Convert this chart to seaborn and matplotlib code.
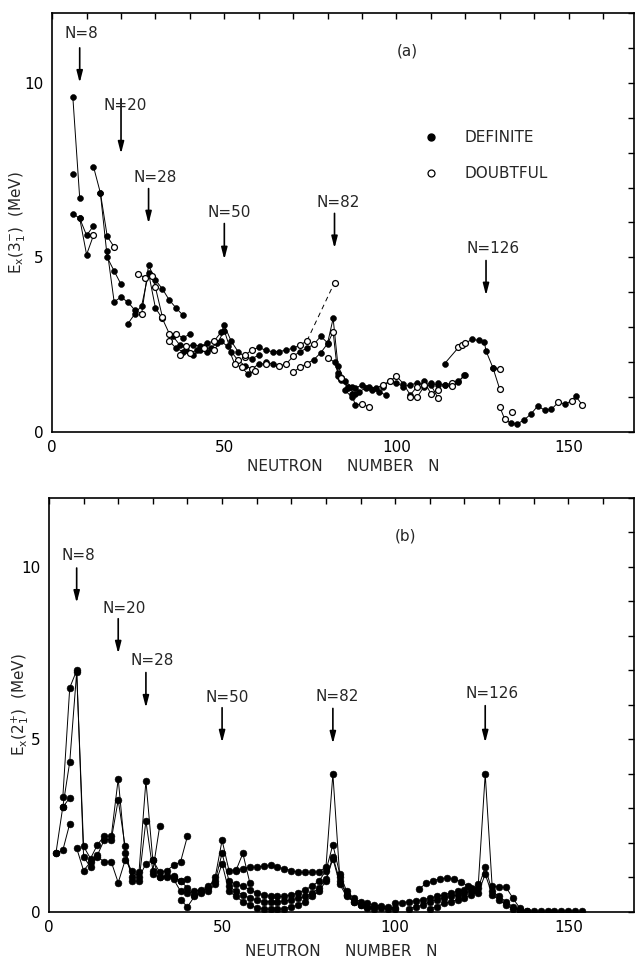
import matplotlib
matplotlib.use("Agg")
import matplotlib.pyplot as plt
import pandas as pd
import seaborn as sns
from matplotlib.lines import Line2D
from matplotlib.ticker import MultipleLocator

sns.set_style("white")
plt.rcParams['font.family'] = ['DejaVu Sans']
plt.rcParams['mathtext.fontset'] = 'dejavusans'

# ---------------- panel (a): E_x(3-_1) ----------------
ta01_n = [6, 8];                ta01_e = [9.6, 6.7];                ta01_k = "ff"
ta02_n = [6];                   ta02_e = [7.38];                    ta02_k = "f"
ta03_n = [6, 8, 10, 12];        ta03_e = [6.25, 6.12, 5.63, 5.9];   ta03_k = "ffff"
ta04_n = [8, 10, 12];           ta04_e = [6.12, 5.08, 5.63];        ta04_k = "ffo"
ta05_n = [12, 14, 16, 18];      ta05_e = [7.6, 6.85, 5.6, 5.3];     ta05_k = "fffo"
ta06_n = [14, 16, 18, 20];      ta06_e = [6.85, 5.0, 4.61, 4.23];   ta06_k = "ffff"
ta07_n = [16, 18, 20, 22, 24, 26, 28, 30, 32, 34, 36, 38]
ta07_e = [5.18, 3.73, 3.86, 3.72, 3.49, 3.39, 4.77, 4.35, 4.1, 3.78, 3.55, 3.34]
ta07_k = "fffffoffffff"
ta08_n = [22, 24, 26, 28, 30, 32, 34, 36, 38, 40]
ta08_e = [3.1, 3.38, 3.62, 4.55, 3.55, 3.25, 2.82, 2.8, 2.7, 2.8]
ta08_k = "fffffoooff"
ta09_n = [25, 27, 29, 30, 32];  ta09_e = [4.52, 4.42, 4.48, 4.14, 3.3]; ta09_k = "ooooo"
ta10_n = [35, 37, 39, 41, 43, 45, 47, 49, 50, 52, 54, 56, 58, 60]
ta10_e = [2.75, 2.5, 2.45, 2.5, 2.45, 2.55, 2.6, 2.85, 3.05, 2.6, 2.3, 2.15, 2.1, 2.2]
ta10_k = "ffofffoffffoff"
ta11_n = [34, 36, 38, 40, 42, 44, 46, 48, 50, 52, 54, 56, 58, 60, 62]
ta11_e = [2.6, 2.4, 2.3, 2.25, 2.35, 2.4, 2.4, 2.55, 2.9, 2.3, 2.05, 1.9, 1.8, 1.95, 1.95]
ta11_k = "offofoffffofofo"
ta12_n = [37, 39, 41, 43, 45, 47, 49, 51, 53, 55, 57, 59]
ta12_e = [2.2, 2.35, 2.2, 2.35, 2.3, 2.35, 2.6, 2.45, 1.95, 1.85, 1.65, 1.75]
ta12_k = "offffoffoofo"
ta13_n = [56, 58, 60, 62, 64, 66, 68, 70, 72, 74]
ta13_e = [2.2, 2.35, 2.42, 2.34, 2.3, 2.3, 2.35, 2.4, 2.49, 2.61]
ta13_k = "ooffffffoo"
ta13d_n = [74, 82];             ta13d_e = [2.61, 4.28];             ta13d_k = "oo"
ta14_n = [62, 64, 66, 68, 70, 72, 74, 76, 78, 80, 81.6, 83, 85, 87]
ta14_e = [2.0, 1.95, 1.89, 1.95, 2.17, 2.3, 2.4, 2.51, 2.74, 2.55, 3.25, 1.9, 1.45, 1.3]
ta14_k = "ffoooffoffffff"
ta15_n = [70, 72, 74, 76, 78, 80, 81.6, 83, 84, 86, 88]
ta15_e = [1.72, 1.85, 1.96, 2.07, 2.27, 2.53, 2.87, 1.6, 1.5, 1.25, 1.1]
ta15_k = "ooofffoffff"
ta15b_n = [80, 82, 83, 84];     ta15b_e = [2.13, 2.0, 1.7, 1.55];   ta15b_k = "offo"
ta16_n = [84, 86, 88, 90, 92, 94, 96, 98, 100, 102, 104, 106, 108, 110, 112, 114, 116, 118, 120]
ta16_e = [1.55, 1.3, 1.25, 1.35, 1.3, 1.25, 1.35, 1.45, 1.4, 1.3, 1.35, 1.4, 1.35, 1.4, 1.35,
          1.35, 1.4, 1.45, 1.63]
ta16_k = "offfffofffffofffoff"
ta17_n = [85, 87, 89, 91, 93, 95, 97]
ta17_e = [1.2, 1.0, 1.15, 1.25, 1.2, 1.15, 1.05]
ta17_k = "fffffff"
ta18_n = [87, 88, 90, 92];      ta18_e = [1.1, 0.78, 0.8, 0.72];    ta18_k = "ffoo"
ta19_n = [96, 98, 100, 102, 104, 106, 108, 110, 112]
ta19_e = [1.3, 1.45, 1.6, 1.38, 1.06, 1.3, 1.45, 1.1, 1.2]
ta19_k = "fooffofoo"
ta20_n = [104, 106, 108, 110, 112]; ta20_e = [1.0, 1.0, 1.3, 1.35, 0.98]; ta20_k = "ooffo"
ta21_n = [114, 118, 119, 120, 122, 124, 125.5, 126, 128, 130]
ta21_e = [1.96, 2.42, 2.48, 2.55, 2.65, 2.62, 2.58, 2.32, 1.84, 1.22]
ta21_k = "fooofffffo"
ta22_n = [128, 130];            ta22_e = [1.84, 1.79];              ta22_k = "fo"
ta23_n = [112, 114, 116, 118, 119.7]; ta23_e = [1.4, 1.35, 1.31, 1.44, 1.63]; ta23_k = "ffoff"
ta24_n = [130, 131.4, 133.3, 135, 137, 139, 141, 143, 145, 147, 149, 151, 152, 154]
ta24_e = [0.72, 0.37, 0.25, 0.23, 0.34, 0.51, 0.74, 0.63, 0.65, 0.85, 0.8, 0.9, 1.03, 0.77]
ta24_k = "oofffffffofofo"
ta25_n = [133.5];               ta25_e = [0.58];                    ta25_k = "o"

# ---------------- panel (b): E_x(2+_1) ----------------
tb01_n = [2, 4, 6, 8, 10, 12, 14, 16, 18, 20, 22, 24, 26, 28, 30, 32, 34, 36, 38, 40]
tb01_e = [1.7, 3.05, 4.35, 6.95, 1.9, 1.55, 1.95, 2.2, 2.2, 3.86, 1.7, 1.0, 1.15, 3.8, 1.5,
          1.0, 1.0, 1.05, 0.9, 0.95]
tb02_n = [4, 6, 8, 10, 12, 14, 16, 18, 20, 22, 24, 26, 28, 30, 32]
tb02_e = [3.33, 6.5, 7.0, 1.6, 1.3, 1.65, 2.1, 2.1, 3.25, 1.9, 0.9, 0.9, 2.65, 1.2, 2.5]
tb03_n = [2, 4, 6];             tb03_e = [1.7, 1.79, 2.56]
tb04_n = [4, 6];                tb04_e = [3.04, 3.31]
tb05_n = [8, 10, 12, 14, 16, 18, 20, 22, 24, 26, 28, 30, 32, 34, 36, 38, 40]
tb05_e = [1.85, 1.2, 1.45, 1.6, 1.45, 1.45, 0.85, 1.5, 1.2, 1.0, 1.4, 1.5, 1.15, 1.2, 1.35,
          1.45, 2.2]
tb06_n = [30, 32, 34, 36, 38, 40, 42, 44, 46, 48, 50, 52, 54, 56, 58, 60, 62, 64, 66, 68, 70,
          72, 74, 76, 78, 80, 82, 84, 86, 88, 90, 92, 94, 96, 98, 100]
tb06_e = [1.1, 1.0, 1.05, 1.0, 0.9, 0.7, 0.5, 0.6, 0.7, 1.0, 2.08, 1.2, 1.22, 1.25, 1.3, 1.3,
          1.33, 1.35, 1.3, 1.25, 1.2, 1.15, 1.15, 1.15, 1.17, 1.3, 4.0, 1.0, 0.5, 0.3, 0.2,
          0.15, 0.15, 0.12, 0.1, 0.1]
tb07_n = [36, 38, 40, 42, 44, 46, 48, 50, 52, 54, 56, 58, 60, 62, 64, 66, 68, 70, 72, 74, 76,
          78, 80, 82, 84, 86, 88, 90, 92, 94, 96, 98, 100]
tb07_e = [0.95, 0.6, 0.55, 0.6, 0.65, 0.75, 0.9, 1.7, 0.9, 0.8, 0.75, 0.65, 0.55, 0.5, 0.45,
          0.45, 0.45, 0.5, 0.55, 0.65, 0.75, 0.9, 1.2, 1.95, 1.1, 0.6, 0.4, 0.3, 0.25, 0.2,
          0.18, 0.15, 0.12]
tb08_n = [38, 40, 42, 44, 46, 48, 50, 52, 54, 56, 58, 60, 62, 64, 66, 68, 70, 72, 74, 76, 78,
          80, 82, 84, 86, 88, 90, 92, 94]
tb08_e = [0.35, 0.15, 0.45, 0.55, 0.6, 0.8, 1.4, 0.6, 0.45, 0.3, 0.2, 0.12, 0.1, 0.08, 0.08,
          0.1, 0.15, 0.2, 0.3, 0.45, 0.6, 0.9, 1.55, 0.8, 0.45, 0.3, 0.2, 0.12, 0.1]
tb09_n = [54, 56, 58];          tb09_e = [1.2, 1.7, 0.85]
tb10_n = [52, 54, 56, 58, 60, 62, 64, 66, 68, 70, 72, 74, 76, 78, 80, 82, 84, 86]
tb10_e = [0.75, 0.6, 0.5, 0.4, 0.35, 0.3, 0.3, 0.3, 0.32, 0.35, 0.4, 0.45, 0.55, 0.7, 0.95,
          1.6, 0.9, 0.5]
tb11_n = [107, 109, 111, 113, 115, 117, 119, 121, 123]
tb11_e = [0.68, 0.83, 0.9, 0.97, 0.98, 0.95, 0.88, 0.75, 0.64]
tb12_n = [100, 102, 104, 106, 108, 110, 112, 114, 116, 118, 120, 122, 124, 126, 128, 130, 132,
          134, 136]
tb12_e = [0.25, 0.27, 0.3, 0.33, 0.35, 0.4, 0.45, 0.5, 0.55, 0.6, 0.65, 0.7, 0.8, 4.0, 0.75,
          0.72, 0.72, 0.4, 0.11]
tb13_n = [104, 106, 108, 110, 112, 114, 116, 118, 120, 122, 124, 126, 128, 130, 132, 134, 136]
tb13_e = [0.1, 0.15, 0.2, 0.3, 0.35, 0.4, 0.45, 0.5, 0.55, 0.6, 0.7, 1.3, 0.6, 0.45, 0.3,
          0.15, 0.05]
tb14_n = [110, 112, 114, 116, 118, 120, 122, 124, 126, 128, 130, 132, 134, 136, 138]
tb14_e = [0.1, 0.15, 0.25, 0.3, 0.35, 0.4, 0.5, 0.55, 1.1, 0.5, 0.35, 0.2, 0.1, 0.05, 0.03]
tb15_n = [136, 138, 140, 142, 144, 146, 148, 150, 152, 154]
tb15_e = [0.05, 0.04, 0.03, 0.03, 0.03, 0.03, 0.03, 0.04, 0.03, 0.02]

# magic-number annotations
magic_n = [8, 20, 28, 50, 82, 126]
magic_lbl = ["N=8", "N=20", "N=28", "N=50", "N=82", "N=126"]
arr_a = [(11.0, 10.0), (9.54, 7.97), (6.97, 5.97), (5.97, 4.94), (6.26, 5.26), (4.91, 3.91)]
txt_a = [(8.6, 11.4), (21.1, 9.34), (29.8, 7.29), (51.4, 6.29), (83.2, 6.57), (128.0, 5.26)]
arr_b = [(9.97, 8.96), (8.5, 7.49), (6.94, 5.92), (5.92, 4.91), (5.9, 4.88), (5.98, 4.91)]
txt_b = [(8.4, 10.32), (21.7, 8.79), (29.8, 7.28), (51.4, 6.21), (83.2, 6.24), (128.0, 6.33)]


def frame(chains):
    rows = []
    for cid, (n, e, k) in enumerate(chains):
        for i, (x, y) in enumerate(zip(n, e)):
            rows.append(dict(N=x, E=y, chain=cid, kind=k[i]))
    return pd.DataFrame(rows)


chains_a = [(ta01_n, ta01_e, ta01_k), (ta02_n, ta02_e, ta02_k), (ta03_n, ta03_e, ta03_k),
            (ta04_n, ta04_e, ta04_k), (ta05_n, ta05_e, ta05_k), (ta06_n, ta06_e, ta06_k),
            (ta07_n, ta07_e, ta07_k), (ta08_n, ta08_e, ta08_k), (ta09_n, ta09_e, ta09_k),
            (ta10_n, ta10_e, ta10_k), (ta11_n, ta11_e, ta11_k), (ta12_n, ta12_e, ta12_k),
            (ta13_n, ta13_e, ta13_k), (ta14_n, ta14_e, ta14_k), (ta15_n, ta15_e, ta15_k),
            (ta15b_n, ta15b_e, ta15b_k), (ta16_n, ta16_e, ta16_k), (ta17_n, ta17_e, ta17_k),
            (ta18_n, ta18_e, ta18_k), (ta19_n, ta19_e, ta19_k), (ta20_n, ta20_e, ta20_k),
            (ta21_n, ta21_e, ta21_k), (ta22_n, ta22_e, ta22_k), (ta23_n, ta23_e, ta23_k),
            (ta24_n, ta24_e, ta24_k), (ta25_n, ta25_e, ta25_k)]
bl = [tb01_n, tb02_n, tb03_n, tb04_n, tb05_n, tb06_n, tb07_n, tb08_n, tb09_n, tb10_n,
      tb11_n, tb12_n, tb13_n, tb14_n, tb15_n]
be = [tb01_e, tb02_e, tb03_e, tb04_e, tb05_e, tb06_e, tb07_e, tb08_e, tb09_e, tb10_e,
      tb11_e, tb12_e, tb13_e, tb14_e, tb15_e]
chains_b = [(n, e, "f" * len(n)) for n, e in zip(bl, be)]

df_a = frame(chains_a)
df_b = frame(chains_b)
df_ad = frame([(ta13d_n, ta13d_e, ta13d_k)])

fig = plt.figure(figsize=(6.36, 9.61), dpi=100)
ax_a = fig.add_axes([0.082, 0.5505, 0.915, 0.436])
ax_b = fig.add_axes([0.077, 0.051, 0.920, 0.4308])


def draw(ax, df, s):
    sns.lineplot(data=df, x="N", y="E", units="chain", estimator=None, sort=False,
                 color="k", lw=0.7, ax=ax, legend=False)
    sns.scatterplot(data=df[df.kind == "f"], x="N", y="E", color="k", edgecolor="k",
                    s=s, linewidth=0.4, ax=ax, zorder=3, legend=False)
    if (df.kind == "o").any():
        sns.scatterplot(data=df[df.kind == "o"], x="N", y="E", color="white", edgecolor="k",
                        s=s, linewidth=0.9, ax=ax, zorder=4, legend=False)


draw(ax_a, df_a, 18)
sns.lineplot(data=df_ad, x="N", y="E", estimator=None, sort=False, color="k", lw=0.7,
             ls=(0, (5, 4)), ax=ax_a, legend=False)
sns.scatterplot(data=df_ad.iloc[[1]], x="N", y="E", color="white", edgecolor="k", s=18,
                linewidth=0.9, ax=ax_a, zorder=4, legend=False)
draw(ax_b, df_b, 24)

for ax, arr, txt, ylab, panel, xpad, ylx in [
        (ax_a, arr_a, txt_a, r"E$_\mathregular{x}$(3$_\mathregular{1}^{-}$)  (MeV)", "(a)",
         3, -24 / 582),
        (ax_b, arr_b, txt_b, r"E$_\mathregular{x}$(2$_\mathregular{1}^{+}$)  (MeV)", "(b)",
         6, -18 / 585)]:
    ax.set_xlim(0, 169)
    ax.set_ylim(0, 12)
    ax.set_xticks([0, 50, 100, 150])
    ax.set_yticks([0, 5, 10])
    ax.xaxis.set_minor_locator(MultipleLocator(10))
    ax.yaxis.set_minor_locator(MultipleLocator(1))
    ax.tick_params(which="both", direction="in", top=True, right=True, length=4.5,
                   width=1.0, labelsize=11, pad=6, colors="k")
    for sp in ax.spines.values():
        sp.set_linewidth(1.2)
        sp.set_color("k")
    ax.set_xlabel("NEUTRON     NUMBER   N", fontsize=11, labelpad=xpad)
    ax.set_ylabel(ylab, fontsize=11)
    ax.yaxis.set_label_coords(ylx, 0.5)
    ax.text(103, 10.9, panel, fontsize=11, ha="center", va="center")
    for n, lbl, (y0, y1), (tx, ty) in zip(magic_n, magic_lbl, arr, txt):
        ax.annotate("", xy=(n, y1), xytext=(n, y0),
                    arrowprops=dict(arrowstyle="-|>,head_width=0.18,head_length=0.7",
                                    color="k", lw=1.2, shrinkA=0, shrinkB=0))
        ax.text(tx, ty, lbl, fontsize=11, ha="center", va="center")

handles = [Line2D([], [], ls="none", marker="o", ms=5, mfc="k", mec="k"),
           Line2D([], [], ls="none", marker="o", ms=5, mfc="white", mec="k", mew=0.9)]
ax_a.legend(handles, ["DEFINITE", "DOUBTFUL"], loc="center left",
            bbox_to_anchor=(107.9, 7.91), bbox_transform=ax_a.transData, frameon=False,
            fontsize=11, handlelength=1.0, handletextpad=1.7, labelspacing=1.35,
            borderpad=0, borderaxespad=0)

fig.savefig("out.png", dpi=100)
